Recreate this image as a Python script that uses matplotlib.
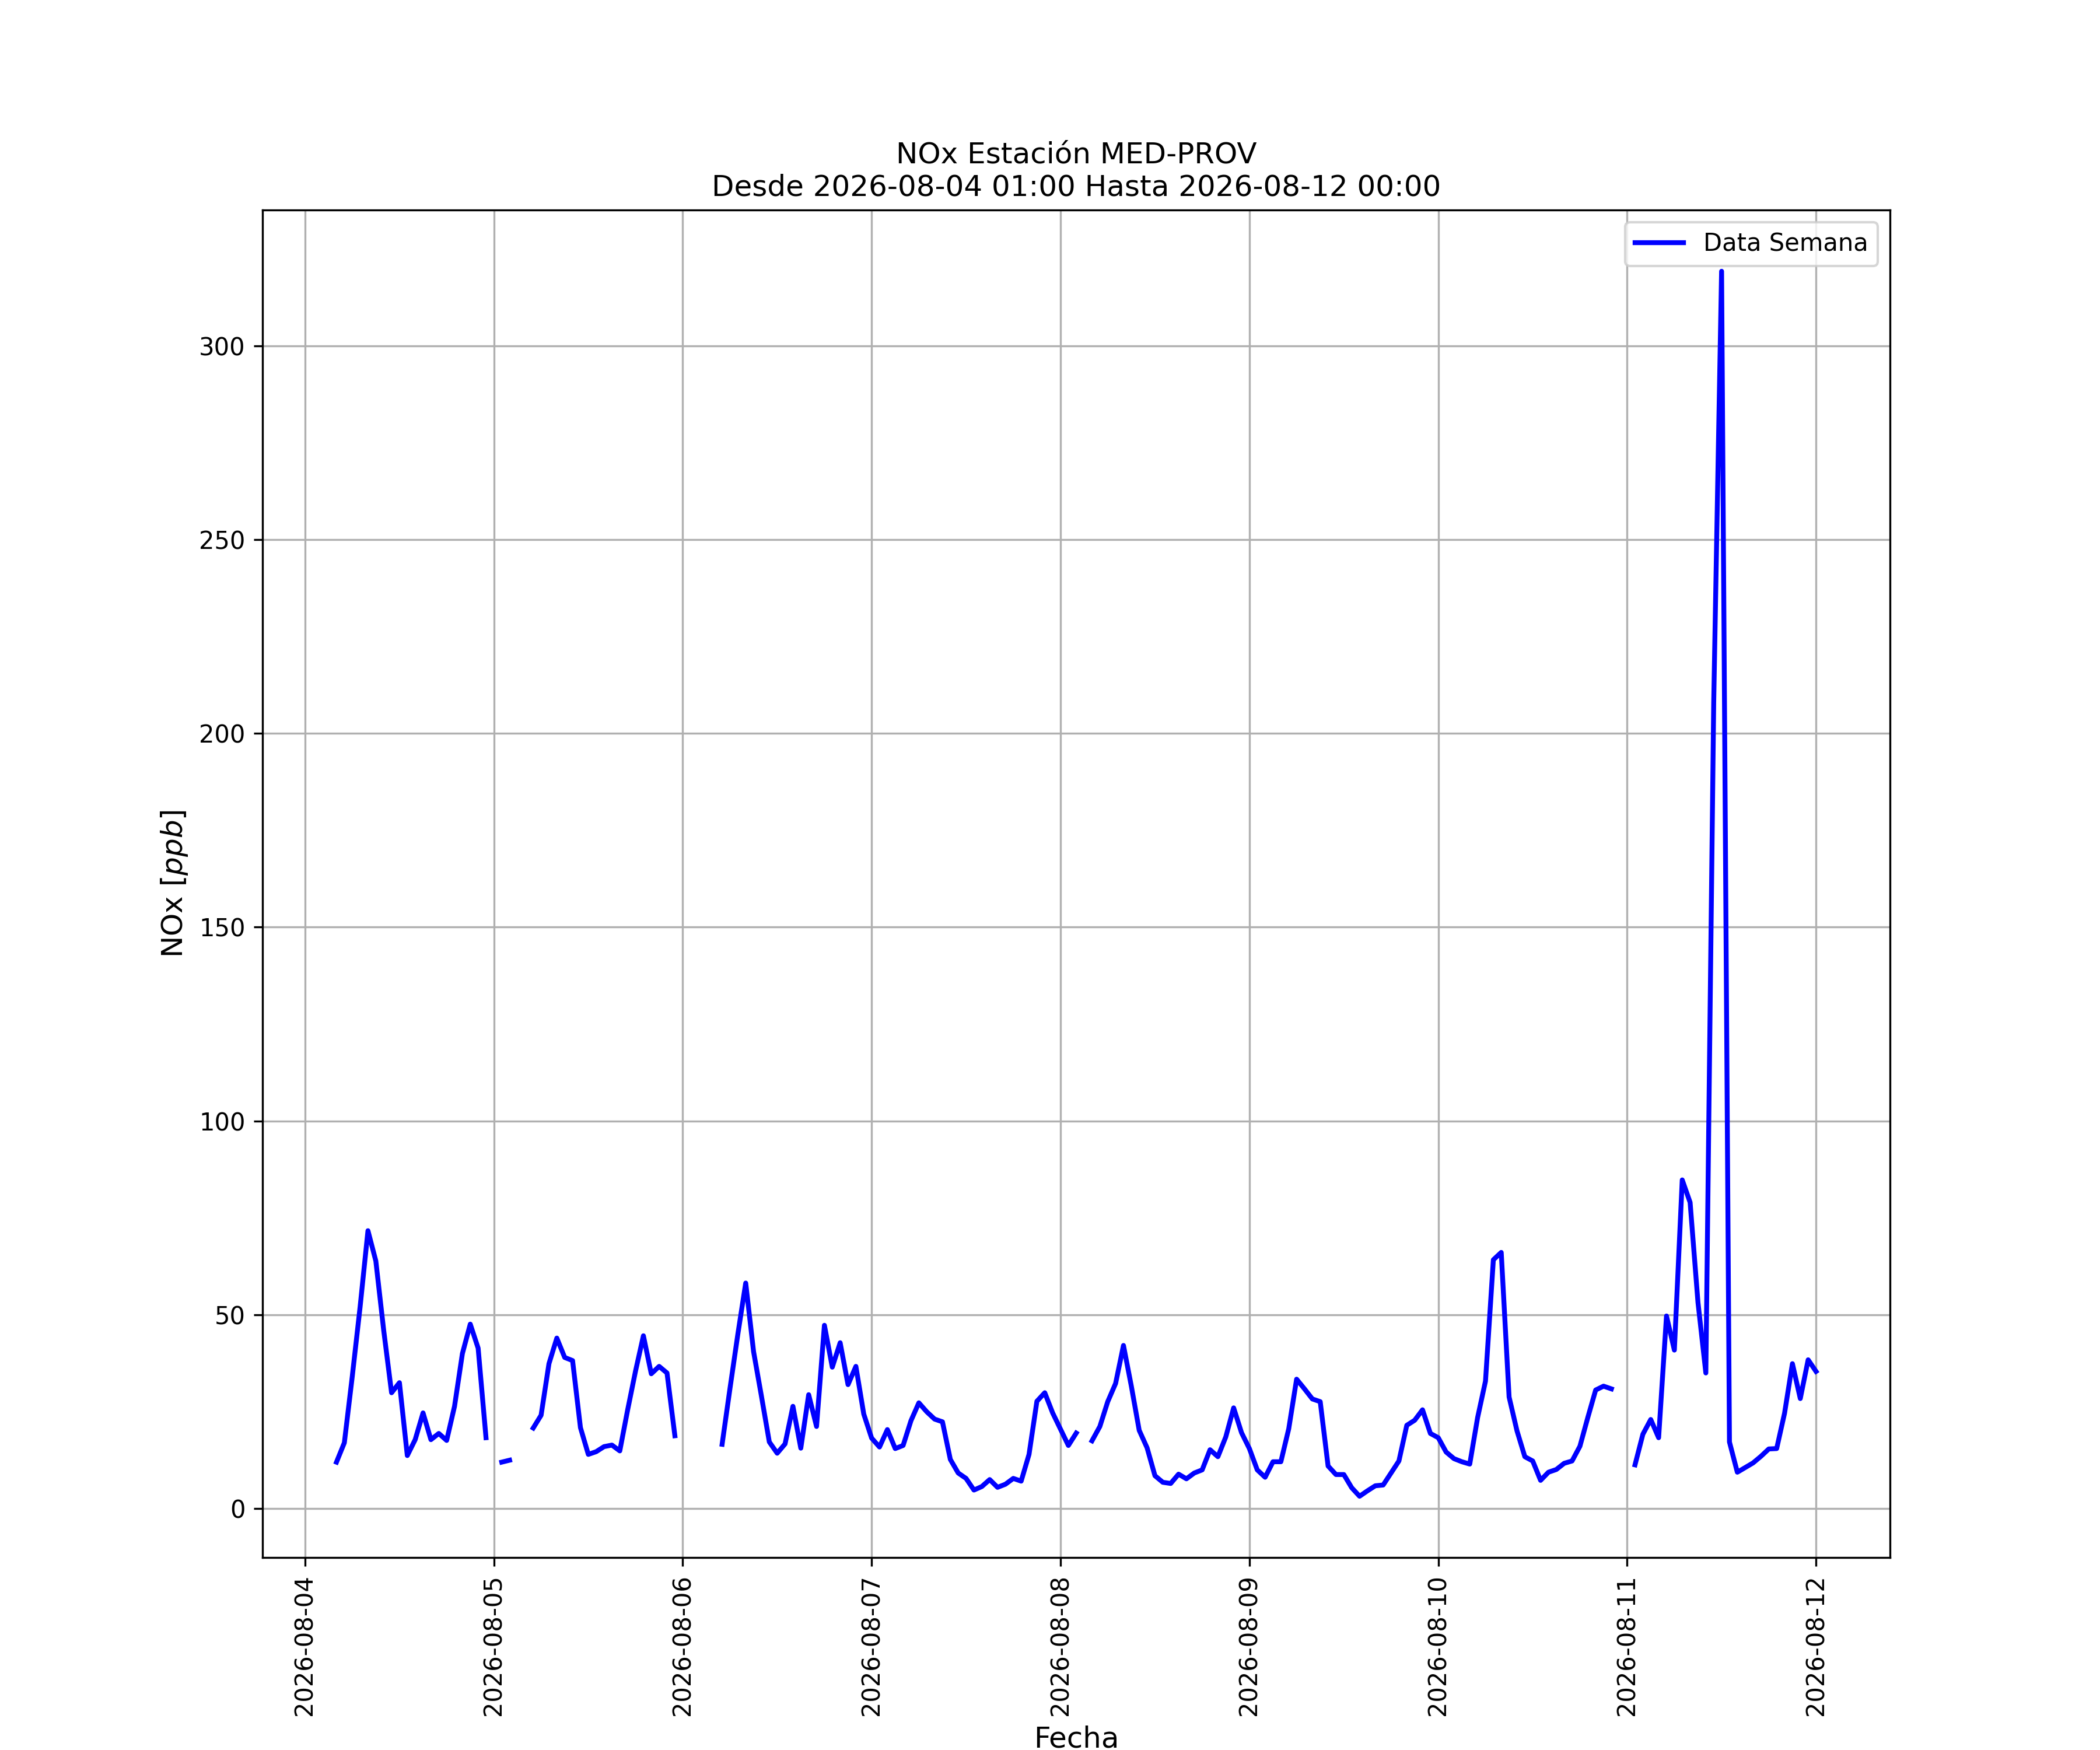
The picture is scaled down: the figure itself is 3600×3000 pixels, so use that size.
import numpy as np
import pandas as pd
import matplotlib
matplotlib.use("Agg")
import matplotlib.pyplot as plt
import matplotlib.dates as mdates

nan = np.nan

# Hourly NOx values [ppb]; each day list is hour 00..23 (08-04 starts at 01:00)
day_0804 = [nan, nan, nan, 12.0, 17.0, 34.0, 52.0, 71.7, 63.9, 46.0, 29.9, 32.5,
            13.7, 17.8, 24.7, 17.8, 19.4, 17.6, 26.4, 40.0, 47.6, 41.4, 18.3]
day_0805 = [nan, 12.0, 12.5, nan, nan, 20.8, 24.1, 37.4, 44.0, 39.0, 38.2, 20.9,
            14.0, 14.7, 16.0, 16.4, 14.9, 25.5, 35.5, 44.6, 34.8, 36.7, 35.0, 18.8]
day_0806 = [nan, nan, nan, nan, nan, 16.6, 31.0, 45.0, 58.2, 40.5, 29.0, 17.2,
            14.3, 16.7, 26.4, 15.6, 29.4, 21.2, 47.3, 36.5, 42.8, 32.0, 36.7, 24.4]
day_0807 = [18.2, 15.9, 20.4, 15.5, 16.3, 22.7, 27.3, 25.0, 23.1, 22.4, 12.7, 9.2,
            7.8, 4.8, 5.7, 7.5, 5.5, 6.3, 7.8, 7.1, 14.0, 27.7, 29.9, 24.7]
day_0808 = [20.5, 16.3, 19.5, nan, 17.5, 21.2, 27.6, 32.3, 42.1, 31.6, 20.2, 15.7,
            8.5, 6.8, 6.5, 8.9, 7.7, 9.2, 10.0, 15.2, 13.4, 18.5, 26.0, 19.6]
day_0809 = [15.5, 10.0, 8.1, 12.1, 12.1, 20.6, 33.4, 30.9, 28.3, 27.6, 11.0, 8.8,
            8.8, 5.4, 3.2, 4.6, 5.9, 6.1, 9.2, 12.3, 21.5, 22.8, 25.5, 19.4]
day_0810 = [18.3, 14.6, 12.9, 12.1, 11.5, 23.5, 32.9, 64.2, 66.1, 28.8, 20.1, 13.4,
            12.3, 7.3, 9.4, 10.1, 11.7, 12.3, 16.1, 23.5, 30.6, 31.6, 30.9, nan]
day_0811 = [nan, 11.3, 19.2, 23.0, 18.3, 49.7, 40.9, 84.8, 79.0, 53.2, 35.0, 208.0,
            319.2, 17.2, 9.4, 10.6, 11.8, 13.5, 15.4, 15.5, 24.6, 37.4, 28.4, 38.4]
day_0812 = [35.4]

values = day_0804 + day_0805 + day_0806 + day_0807 + day_0808 + day_0809 + day_0810 + day_0811 + day_0812
fechas = pd.date_range("2026-08-04 01:00", "2026-08-12 00:00", freq="h")
serie = pd.Series(values, index=fechas)

fig = plt.figure(figsize=(12, 10))
ax = fig.add_subplot(111)
ax.plot(serie.index, serie.values, color="blue", linewidth=2, label="Data Semana")
ax.set_title("NOx Estación MED-PROV\nDesde 2026-08-04 01:00 Hasta 2026-08-12 00:00", fontsize=12)
ax.set_xlabel("Fecha", fontsize=12)
ax.set_ylabel("NOx $[ppb]$", fontsize=12)
ax.xaxis.set_major_locator(mdates.DayLocator())
ax.xaxis.set_major_formatter(mdates.DateFormatter("%Y-%m-%d"))
plt.setp(ax.get_xticklabels(), rotation=90)
ax.grid(True)
ax.legend(loc="upper right")
fig.savefig("out.png", dpi=300)
